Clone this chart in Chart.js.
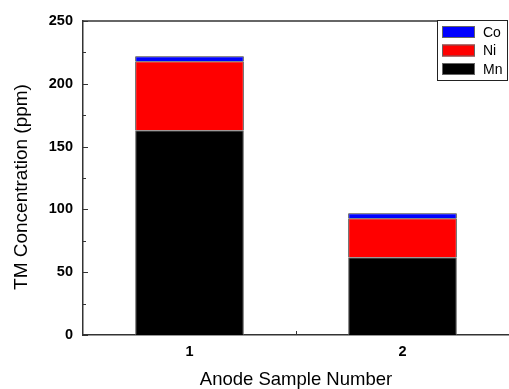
<!DOCTYPE html>
<html>
<head>
<meta charset="utf-8">
<script src="https://cdn.jsdelivr.net/npm/chart.js@4/dist/chart.umd.min.js"></script>
<style>
  html, body { margin: 0; padding: 0; background: #fff; }
  #wrap { width: 509px; height: 389px; }
</style>
</head>
<body>
<div id="wrap"><canvas id="canvas" width="509" height="389"></canvas></div>
<script>
// samples and transition metal concentrations (ppm), stacked Mn / Ni / Co
var SAMPLES = ["1", "2"];
var MN = [163, 62];
var NI = [55, 31];
var CO = [4, 4];
var Y_TICKS = [0, 50, 100, 150, 200, 250];
var Y_TITLE = "TM Concentration (ppm)";

var FONT = "Arial, 'Liberation Sans', sans-serif";

// inward tick marks, top frame line, y title and the boxed legend
var framePlugin = {
    id: "frame",
    afterDraw: function (chart) {
        var ctx = chart.ctx;
        var area = chart.chartArea;
        var y = chart.scales.y;
        var x = chart.scales.x;
        ctx.save();
        ctx.strokeStyle = "#333";
        ctx.lineWidth = 1.5;

        // top frame
        ctx.beginPath();
        ctx.moveTo(area.left, area.top);
        ctx.lineTo(area.right, area.top);
        ctx.stroke();

        // y ticks, major and minor, pointing into the plot
        ctx.lineWidth = 1;
        for (var v = 0; v <= 250; v += 25) {
            var py = Math.round(y.getPixelForValue(v)) + 0.5;
            var len = v % 50 === 0 ? 5 : 3;
            ctx.beginPath();
            ctx.moveTo(area.left, py);
            ctx.lineTo(area.left + len, py);
            ctx.stroke();
        }

        // x tick between the samples
        var mid = (x.getPixelForValue(0) + x.getPixelForValue(1)) / 2;
        ctx.beginPath();
        ctx.moveTo(Math.round(mid) + 0.5, area.bottom);
        ctx.lineTo(Math.round(mid) + 0.5, area.bottom - 4);
        ctx.stroke();

        // y axis title, sitting a little below the middle of the axis
        ctx.save();
        ctx.translate(22, 187);
        ctx.rotate(-Math.PI / 2);
        ctx.font = "19px " + FONT;
        ctx.fillStyle = "#000";
        ctx.textAlign = "center";
        ctx.textBaseline = "middle";
        ctx.fillText(Y_TITLE, 0, 0);
        ctx.restore();

        // legend, listed top to bottom as Co, Ni, Mn
        var lx = 437, ly = 20, lw = 72, lh = 60;
        ctx.fillStyle = "#fff";
        ctx.fillRect(lx, ly, lw, lh);
        ctx.strokeStyle = "#222";
        ctx.lineWidth = 1;
        ctx.strokeRect(lx + 0.5, ly + 0.5, lw - 2, lh);

        var sets = chart.data.datasets.slice().reverse();
        ctx.font = "14px " + FONT;
        ctx.textBaseline = "middle";
        ctx.textAlign = "left";
        sets.forEach(function (ds, i) {
            var cy = ly + 12 + i * 18.5;
            ctx.fillStyle = ds.backgroundColor;
            ctx.fillRect(lx + 5, cy - 6, 33, 12);
            ctx.strokeStyle = "#666";
            ctx.strokeRect(lx + 5.5, cy - 5.5, 32, 11);
            ctx.fillStyle = "#000";
            ctx.fillText(ds.label, lx + 46, cy + 1);
        });
        ctx.restore();
    }
};

var ctx = document.getElementById("canvas").getContext("2d");
new Chart(ctx, {
    type: "bar",
    data: {
        labels: SAMPLES,
        datasets: [{
            label: "Mn",
            data: MN,
            backgroundColor: "#000000",
            borderColor: "#555",
            borderWidth: 1
        }, {
            label: "Ni",
            data: NI,
            backgroundColor: "#ff0000",
            borderColor: "#333",
            borderWidth: 1
        }, {
            label: "Co",
            data: CO,
            backgroundColor: "#0000ff",
            borderColor: "#333",
            borderWidth: 1
        }]
    },
    options: {
        responsive: false,
        animation: false,
        layout: { padding: { top: 21, right: 0, left: 0, bottom: 0 } },
        datasets: {
            bar: { categoryPercentage: 1.0, barPercentage: 0.51 }
        },
        plugins: {
            legend: { display: false },
            tooltip: { enabled: false }
        },
        scales: {
            x: {
                stacked: true,
                grid: { display: false, drawTicks: false },
                border: { display: true, color: "#333", width: 1.5 },
                ticks: {
                    color: "#000",
                    padding: 8,
                    font: { family: FONT, size: 14.5, weight: "bold" }
                },
                title: {
                    display: true,
                    text: "Anode Sample Number",
                    color: "#000",
                    padding: { top: 0, bottom: 0 },
                    font: { family: FONT, size: 18.5, lineHeight: 1 }
                },
                afterFit: function (scale) { scale.height = 54; }
            },
            y: {
                stacked: true,
                min: 0,
                max: 250,
                afterBuildTicks: function (scale) {
                    scale.ticks = Y_TICKS.map(function (v) { return { value: v }; });
                },
                grid: { display: false, drawTicks: false },
                border: { display: true, color: "#333", width: 1.5 },
                ticks: {
                    color: "#000",
                    padding: 10,
                    font: { family: FONT, size: 14.5, weight: "bold" }
                },
                afterFit: function (scale) { scale.width = 83; }
            }
        }
    },
    plugins: [framePlugin]
});
</script>
</body>
</html>
